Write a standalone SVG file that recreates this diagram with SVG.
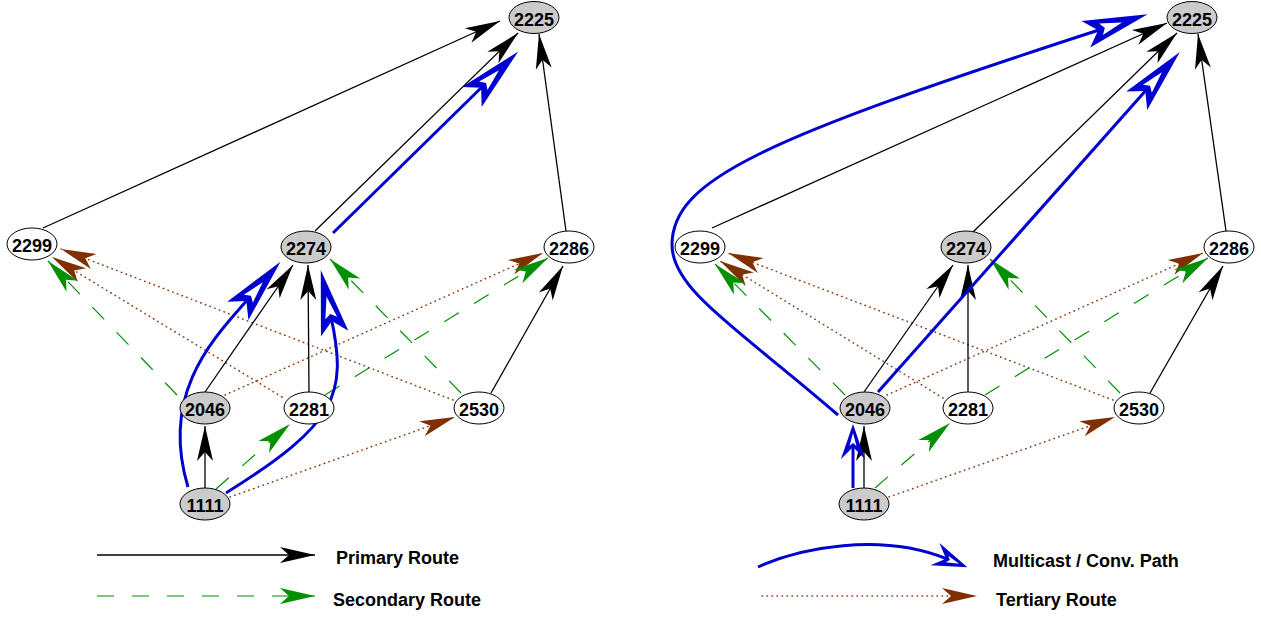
<svg xmlns="http://www.w3.org/2000/svg" width="1261" height="617" viewBox="0 0 1261 617">
<style>
.n ellipse{stroke:#000;stroke-width:1}
.g{fill:#cbcbcb}
.w{fill:#fff}
.n text,.lg{font-family:"Liberation Sans",Arial,sans-serif;font-weight:bold;fill:#000}
.n text{font-size:18px;text-anchor:middle}
.lg{font-size:18px}
.pri{fill:none;stroke:#000;stroke-width:1.3;marker-end:url(#ab)}
.sec{fill:none;stroke:#009000;stroke-width:1.2;stroke-dasharray:17 18;marker-end:url(#ag)}
.ter{fill:none;stroke:#8b3a10;stroke-width:1.5;stroke-dasharray:0.5 4.5;stroke-linecap:round;marker-end:url(#at)}
.mc{fill:none;stroke:#0000d0;stroke-width:3;marker-end:url(#hb)}
.mcs{fill:none;stroke:#0000d0;stroke-width:3;marker-end:url(#hs)}
.hb{fill:#0000d0}
.hw{fill:#fff}
</style>
<defs>
<marker id="ab" markerUnits="userSpaceOnUse" markerWidth="36" markerHeight="16" refX="35" refY="8" orient="auto" overflow="visible"><path d="M0,0 L35,8 L0,16 L9,8 Z" fill="#000"/></marker>
<marker id="ag" markerUnits="userSpaceOnUse" markerWidth="36" markerHeight="16" refX="35" refY="8" orient="auto" overflow="visible"><path d="M0,0 L35,8 L0,16 L9,8 Z" fill="#009000"/></marker>
<marker id="at" markerUnits="userSpaceOnUse" markerWidth="36" markerHeight="16" refX="35" refY="8" orient="auto" overflow="visible"><path d="M0,0 L35,8 L0,16 L9,8 Z" fill="#803000"/></marker>
<marker id="hb" markerUnits="userSpaceOnUse" markerWidth="66" markerHeight="28" refX="17" refY="14" orient="auto" overflow="visible"><path class="hb" d="M0,0 L65,14 L0,28 L13,14 Z"/><path class="hw" d="M16,8 L38,14 L16,20 L20,14 Z"/></marker>
<marker id="hs" markerUnits="userSpaceOnUse" markerWidth="36" markerHeight="24" refX="13" refY="12" orient="auto" overflow="visible"><path class="hb" d="M0,0 L35,12 L0,24 L12,12 Z"/><path class="hw" d="M13,8.5 L26,12 L13,15.5 L16,12 Z"/></marker>
</defs>
<g id="connectors">
<!-- left graph -->
<path class="ter" d="M453,400 L61,249"/>
<path class="ter" d="M282,397 L52,257"/>
<path class="ter" d="M225,395 L543,253"/>
<path class="ter" d="M230,497 L455,417"/>
<path class="sec" d="M177,395 L48,261"/>
<path class="sec" d="M461,393 L330,259"/>
<path class="sec" d="M216,489 L290,424"/>
<path class="sec" d="M325,395 L548,258"/>
<path class="pri" d="M43,228 L500,21"/>
<path class="pri" d="M315,231 L518,33"/>
<path class="pri" d="M566,231 L539,34"/>
<path class="pri" d="M205,392 L293,265"/>
<path class="pri" d="M309,392 L308,265"/>
<path class="pri" d="M205,488 L205,426"/>
<path class="pri" d="M491,393 L563,266"/>
<path class="mc" d="M333,233 L484,85"/>
<path class="mc" d="M188,487 C159,391 216,336 249,298"/>
<path class="mc" d="M226,493 C336.5,424 348,395 331,317"/>
<!-- right graph -->
<path class="ter" d="M1113,400 L728,253"/>
<path class="ter" d="M943,398 L720,261"/>
<path class="ter" d="M887,395 L1203,253"/>
<path class="ter" d="M889,497 L1115,417"/>
<path class="sec" d="M845,395 L715,264"/>
<path class="sec" d="M1120,393 L990,259"/>
<path class="sec" d="M875,488 L950,423"/>
<path class="sec" d="M985,395 L1208,258"/>
<path class="pri" d="M712,228 L1167,23"/>
<path class="pri" d="M973,232 L1177,33"/>
<path class="pri" d="M1226,231 L1198,34"/>
<path class="pri" d="M864,392 L953,265"/>
<path class="pri" d="M968,392 L968,265"/>
<path class="pri" d="M864,488 L864,426"/>
<path class="pri" d="M1150,393 L1223,266"/>
<path class="mc" d="M838,415 C740,330 672,290 672,245 C672,180 760,140 1102,29"/>
<path class="mc" d="M878,392 L1148,88"/>
<path class="mcs" d="M853,488 L853,446"/>
</g>
<g id="nodes-left">
<g id="L2225" class="n"><ellipse class="g" cx="534" cy="17.5" rx="25" ry="16"/><text x="534" y="25.5">2225</text></g>
<g id="L2299" class="n"><ellipse class="w" cx="32" cy="244" rx="25" ry="16"/><text x="32" y="252">2299</text></g>
<g id="L2274" class="n"><ellipse class="g" cx="306" cy="247" rx="25" ry="16"/><text x="306" y="255">2274</text></g>
<g id="L2286" class="n"><ellipse class="w" cx="569" cy="247" rx="25" ry="16"/><text x="569" y="255">2286</text></g>
<g id="L2046" class="n"><ellipse class="g" cx="205" cy="408" rx="25" ry="16"/><text x="205" y="416">2046</text></g>
<g id="L2281" class="n"><ellipse class="w" cx="309" cy="408" rx="25" ry="16"/><text x="309" y="416">2281</text></g>
<g id="L2530" class="n"><ellipse class="w" cx="479" cy="408" rx="25" ry="16"/><text x="479" y="416">2530</text></g>
<g id="L1111" class="n"><ellipse class="g" cx="205" cy="504" rx="25" ry="16"/><text x="205" y="512">1111</text></g>
</g>
<g id="nodes-right">
<g id="R2225" class="n"><ellipse class="g" cx="1192" cy="17.5" rx="25" ry="16"/><text x="1192" y="25.5">2225</text></g>
<g id="R2299" class="n"><ellipse class="w" cx="700" cy="247" rx="25" ry="16"/><text x="700" y="255">2299</text></g>
<g id="R2274" class="n"><ellipse class="g" cx="966" cy="247" rx="25" ry="16"/><text x="966" y="255">2274</text></g>
<g id="R2286" class="n"><ellipse class="w" cx="1229" cy="247" rx="25" ry="16"/><text x="1229" y="255">2286</text></g>
<g id="R2046" class="n"><ellipse class="g" cx="865" cy="408" rx="25" ry="16"/><text x="865" y="416">2046</text></g>
<g id="R2281" class="n"><ellipse class="w" cx="968" cy="408" rx="25" ry="16"/><text x="968" y="416">2281</text></g>
<g id="R2530" class="n"><ellipse class="w" cx="1139" cy="408" rx="25" ry="16"/><text x="1139" y="416">2530</text></g>
<g id="R1111" class="n"><ellipse class="g" cx="864" cy="504" rx="25" ry="16"/><text x="864" y="512">1111</text></g>
</g>
<g id="legend">
<path class="pri" d="M97,555 L315,555"/>
<text class="lg" x="336" y="564">Primary Route</text>
<path class="sec" d="M97,596 L315,596"/>
<text class="lg" x="333" y="606">Secondary Route</text>
<path class="mcs" d="M758,567 C800,548 880,532 947,559"/>
<text class="lg" x="993" y="567">Multicast / Conv. Path</text>
<path class="ter" d="M762,596 L977,596"/>
<text class="lg" x="996" y="606">Tertiary Route</text>
</g>
</svg>
